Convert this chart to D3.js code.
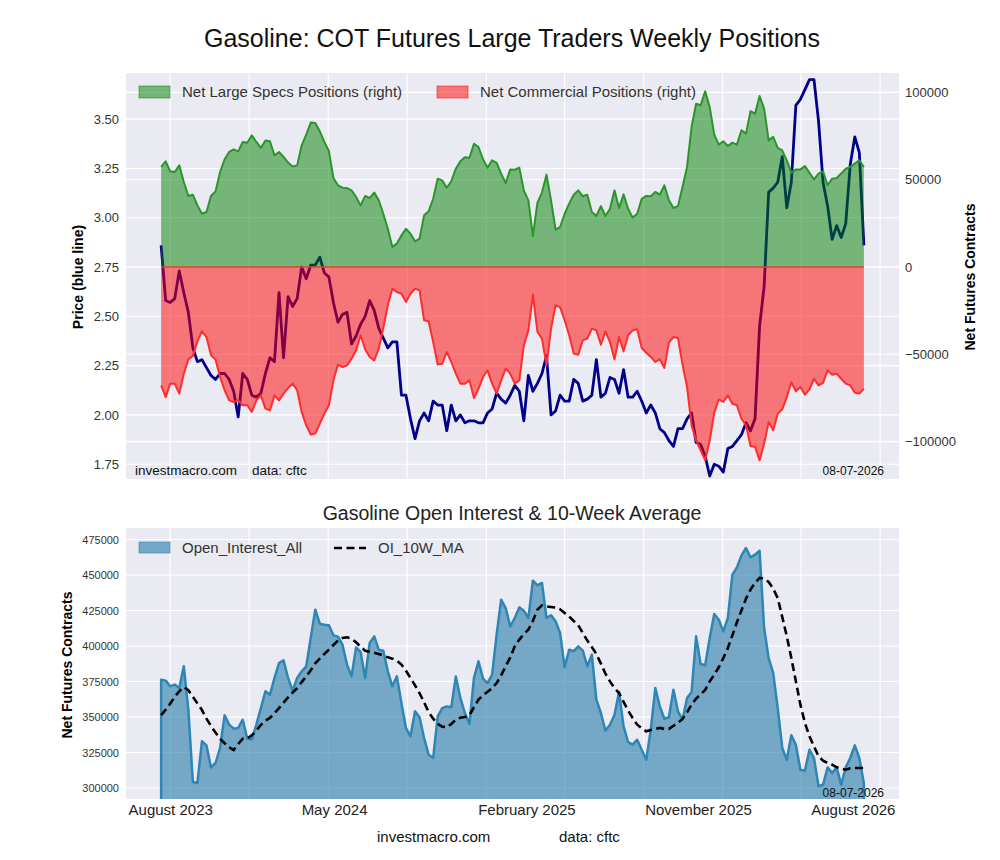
<!DOCTYPE html>
<html>
<head>
<meta charset="utf-8">
<script src="https://cdn.jsdelivr.net/npm/d3@7"></script>
<style>
body { margin: 0; background: #fff; }
text { font-family: "Liberation Sans", Arial, sans-serif; }
</style>
</head>
<body>
<script>
// weekly COT report dates, first one below, one every week after
const firstReport = "2023-07-18";

const specs = [57300, 60500, 54800, 54400, 58200, 48700, 40700, 41400, 35300, 30500,
  31500, 40700, 43300, 54400, 61700, 65900, 67400, 66200, 71600, 71200,
  75400, 71600, 68200, 72500, 72000, 63900, 65900, 63000, 59800, 57600,
  58200, 69700, 75800, 82700, 82500, 77700, 71600, 66400, 51000, 46800,
  45400, 45200, 43900, 40100, 35300, 40700, 39500, 42600, 38200, 30500,
  21900, 11500, 13400,
  18100, 21900, 19100, 14700, 16200, 29600, 31900, 39100, 50600, 49600,
  45400, 49100, 56300, 60500, 62800, 62600, 70600, 68700, 61700, 56900,
  61100, 59700, 53500, 48100, 55900, 55700, 56900, 43900, 38200, 17700,
  36800, 42600, 52900, 38200, 21400, 22900, 30500, 36300, 41400, 43900,
  40500, 41400, 31500, 29200, 34900, 29200, 33400, 43900, 33800, 41600,
  33400,
  28300, 30500, 39100, 40700, 40500, 43000, 41400, 46800, 38200, 33800,
  34900, 45800, 57300, 80200, 93500, 92600, 100600, 91600, 75800, 70100,
  72000, 69300, 71200, 70100, 78300, 76400, 89200, 87800, 97900, 90700,
  72500, 74500, 68200, 66800, 61100, 54000, 55900, 55900, 57800, 54000,
  50200, 53500, 54800, 46800, 50600, 51000, 53500, 56300, 57300, 59200,
  61100, 57300];

const comms = [-67800, -74500, -66800, -66800, -72500, -61100, -52900, -51000, -42600, -36800,
  -40100, -50600, -52900, -63000, -70600, -76400, -77300, -76400, -79200, -79200,
  -83000, -76400, -73500, -81100, -82100, -73500, -76400, -72500, -69300, -66800,
  -70600, -83000, -90700, -96000, -95400, -89700, -84000, -79200, -64900, -55900,
  -57300, -56300, -52500, -47700, -39100, -47100, -51500, -53500, -46800, -34900,
  -21900, -12400, -14300,
  -15300, -20000, -15300, -12400, -13400, -30500, -31100, -43000, -55900, -55400,
  -48700, -54400, -61100, -66800, -66800, -64900, -75000, -69700, -63000, -59200,
  -66800, -72500, -64900, -58200, -61100, -66800, -64900, -44900, -36300, -15800,
  -37200, -41000, -56300, -35300, -21900, -23100, -30500, -39100, -49600, -50200,
  -42000, -41000, -35300, -36300, -44500, -36800, -43000, -52900, -40100, -48300,
  -39100,
  -36300, -35700, -46400, -49100, -51500, -54400, -52900, -57800, -43300, -40100,
  -40700, -55900, -68700, -90700, -99300, -105000, -110700, -99300, -83400, -75800,
  -77300, -73500, -78300, -79200, -86900, -90700, -102500, -103100, -110700, -101200,
  -88800, -93500, -84000, -81500, -74500, -65900, -71200, -68700, -73100, -70100,
  -64000, -67800, -66300, -59200, -61700, -61100, -64000, -66800, -67800, -72000,
  -72500, -69700];

const price = [2.86, 2.58, 2.57, 2.59, 2.73, 2.62, 2.52, 2.34, 2.27, 2.28,
  2.24, 2.20, 2.18, 2.21, 2.21, 2.18, 2.12, 1.99, 2.21, 2.18,
  2.10, 2.09, 2.11, 2.21, 2.29, 2.27, 2.62, 2.29, 2.60, 2.55,
  2.59, 2.75, 2.69, 2.76, 2.76, 2.80, 2.72, 2.70, 2.57, 2.47,
  2.51, 2.52, 2.36, 2.40, 2.46, 2.50, 2.58, 2.53, 2.44, 2.39,
  2.34, 2.37, 2.37,
  2.10, 2.10, 1.98, 1.88, 1.97, 2.01, 1.97, 2.07, 2.05, 2.05,
  1.92, 2.05, 1.97, 2.00, 1.96, 1.97, 1.97, 1.96, 1.96, 2.01,
  2.03, 2.11, 2.08, 2.06, 2.10, 2.15, 2.12, 1.97, 2.20, 2.12,
  2.16, 2.21, 2.30, 2.00, 2.02, 2.10, 2.07, 2.07, 2.18, 2.16,
  2.07, 2.08, 2.10, 2.28, 2.09, 2.11, 2.19, 2.18, 2.11, 2.23,
  2.09,
  2.09, 2.12, 2.07, 2.01, 2.05, 2.01, 1.93, 1.91, 1.87, 1.84,
  1.93, 1.93, 1.98, 2.01, 1.86, 1.85, 1.79, 1.69, 1.75, 1.74,
  1.71, 1.83, 1.84, 1.87, 1.90, 1.96, 1.92, 1.98, 2.45, 2.65,
  3.13, 3.15, 3.18, 3.31, 3.05, 3.18, 3.57, 3.60, 3.65, 3.70,
  3.70, 3.49, 3.18, 3.06, 2.89, 2.96, 2.90, 2.97, 3.27, 3.41,
  3.33, 2.86];

const openInterest = [376300, 375600, 371600, 372800, 370400, 385700, 355200, 304200, 303500, 332900,
  330000, 314500, 317600, 328200, 351200, 344600, 341800, 342300, 348100, 334700,
  334300, 344600, 356300, 368100, 365700, 377500, 388000, 389900, 377500, 368500,
  377500, 382200, 385700, 405600, 425600, 415700, 415000, 414600, 407500, 406600,
  400900, 386900, 378600, 399000, 395800, 377500, 402100, 406800, 397400, 396700,
  382200, 371600, 378600, 359900, 342300, 336400, 354000, 349800, 335200, 323500,
  321100, 350500, 356300, 357500, 356800, 378600, 363400, 352800, 345100, 377500,
  389200, 377000, 373900, 379800, 408000, 432600, 426700, 413800, 419700, 427200,
  424900, 419700, 446000, 442700, 444400, 419700, 421600, 417400, 409200, 385000,
  397400, 396300, 399800, 396700, 385700, 393900, 362200, 352800, 340400, 344600,
  351600, 367600, 343400, 332400, 330500, 334000, 327000, 319900, 341100, 370400,
  357500, 348800, 349800, 369200, 354000, 348100, 363400, 367600, 406800, 387300,
  386400, 405600, 422500, 418500, 410300, 419700, 450200, 455400, 463800, 469000,
  462400, 464300, 467100, 412700, 391500, 381000, 356300, 328200, 319900, 337100,
  330500, 312900, 312200, 327000, 321100, 301200, 302300, 314500, 310600, 314500,
  302300, 314500, 321100, 330000, 321100, 303300];

const oiMA = [351200, 355200, 359400, 364300, 368100, 371100, 368800, 364300, 359600, 354900,
  348800, 343700, 339000, 334700, 331500, 328600, 326800, 331000, 334700, 335000,
  337100, 340400, 344400, 347400, 349300, 352800, 356300, 360100, 363800, 367100,
  370400, 374600, 378600, 382900, 387800, 391100, 394400, 397400, 400700, 403800,
  405600, 406100, 405200, 402600, 399500, 396700, 396000, 395300, 394400, 393200,
  392000, 391100, 389700, 386900, 382600, 377500, 372300, 366700, 360300, 353500,
  348800, 345100, 343200, 342700, 345100, 348100, 349500, 350000, 351200, 357000,
  362200, 365300, 367800, 370200, 373900, 379300, 385700, 392000, 399800, 404500,
  408400, 411500, 417800, 425600, 428600, 427900, 427500, 427000, 425800, 423200,
  420700, 417600, 414600, 409200, 403800, 399300, 394400, 387600, 380500, 375100,
  370400, 366900, 360600, 354500, 349300, 344600, 342000, 339900, 340800, 341600,
  342300, 341600, 341600, 343700, 346000, 348600, 353300, 358700, 362900, 366000,
  369000, 375100, 379800, 385000, 391500, 398600, 407500, 416700, 425100, 433300,
  439700, 444400, 447900, 447400, 445100, 440400, 433800, 420400, 406800, 391500,
  375100, 358700, 345800, 336400, 329300, 322300, 319300, 317600, 316400, 314600,
  313600, 312900, 313900, 314100, 314100, 314100];

const priceTicks = [1.75, 2.00, 2.25, 2.50, 2.75, 3.00, 3.25, 3.50];
const netTicks = [-100000, -50000, 0, 50000, 100000];
const oiTicks = [300000, 325000, 350000, 375000, 400000, 425000, 450000, 475000];
const dateLabels = ["August 2023", "May 2024", "February 2025", "November 2025", "August 2026"];
const dateLabelAt = ["2023-08-01", "2024-04-10", "2025-02-01", "2025-10-24", "2026-06-20"];

const parse = d3.utcParse("%Y-%m-%d");
const dates = specs.map((d, i) => d3.utcWeek.offset(parse(firstReport), i));

const W = 1000, H = 860;
const left = 126, right = 899;
const top1 = 73, bot1 = 479;
const top2 = 528, bot2 = 799;
const bg = "#eaeaf2";
const tickColor = "#333";

const svg = d3.select("body").append("svg")
  .attr("width", W)
  .attr("height", H);

svg.append("rect").attr("width", W).attr("height", H).attr("fill", "#fff");

// x scale, matplotlib style 5% margin each side
const span = dates[dates.length - 1] - dates[0];
const x = d3.scaleUtc()
  .domain([new Date(+dates[0] - span * 0.05), new Date(+dates[dates.length - 1] + span * 0.05)])
  .range([left, right]);
const gridDates = d3.utcMonth.range(new Date(Date.UTC(2023, 7, 1)), new Date(Date.UTC(2026, 8, 2)), 4);

const yPrice = d3.scaleLinear().domain([1.675, 3.734]).range([bot1, top1]);
const yNet = d3.scaleLinear().domain([-121400, 111100]).range([bot1, top1]);
const yOI = d3.scaleLinear().domain([292250, 483100]).range([bot2, top2]);

const defs = svg.append("defs");
defs.append("clipPath").attr("id", "clip1")
  .append("rect").attr("x", left).attr("y", top1).attr("width", right - left).attr("height", bot1 - top1);
defs.append("clipPath").attr("id", "clip2")
  .append("rect").attr("x", left).attr("y", top2).attr("width", right - left).attr("height", bot2 - top2);

// title
svg.append("text")
  .attr("x", 512).attr("y", 47)
  .attr("text-anchor", "middle")
  .attr("font-size", 25)
  .attr("fill", "#111")
  .text("Gasoline: COT Futures Large Traders Weekly Positions");

/************ top panel ************/
const p1 = svg.append("g");
p1.append("rect")
  .attr("x", left).attr("y", top1)
  .attr("width", right - left).attr("height", bot1 - top1)
  .attr("fill", bg);

const grid1 = p1.append("g").attr("stroke", "#fff").attr("stroke-width", 1.1);
grid1.selectAll(".gx").data(gridDates).enter().append("line")
  .attr("x1", d => x(d)).attr("x2", d => x(d))
  .attr("y1", top1).attr("y2", bot1);
grid1.selectAll(".gp").data(priceTicks).enter().append("line")
  .attr("x1", left).attr("x2", right)
  .attr("y1", d => yPrice(d)).attr("y2", d => yPrice(d));
grid1.selectAll(".gn").data(netTicks).enter().append("line")
  .attr("x1", left).attr("x2", right)
  .attr("y1", d => yNet(d)).attr("y2", d => yNet(d));

const plot1 = p1.append("g").attr("clip-path", "url(#clip1)");

// price sits under the position fills
plot1.append("path")
  .datum(price)
  .attr("fill", "none")
  .attr("stroke", "#00008b")
  .attr("stroke-width", 2.8)
  .attr("stroke-linejoin", "round")
  .attr("d", d3.line().x((d, i) => x(dates[i])).y(d => yPrice(d)));

const netArea = d3.area()
  .x((d, i) => x(dates[i]))
  .y0(yNet(0))
  .y1(d => yNet(d));
const netLine = d3.line()
  .x((d, i) => x(dates[i]))
  .y(d => yNet(d));

plot1.append("path").datum(specs)
  .attr("fill", "green").attr("fill-opacity", 0.5)
  .attr("d", netArea);
plot1.append("path").datum(comms)
  .attr("fill", "red").attr("fill-opacity", 0.5)
  .attr("d", netArea);

plot1.append("path").datum(specs)
  .attr("fill", "none").attr("stroke", "#2a962a").attr("stroke-width", 2)
  .attr("stroke-linejoin", "round")
  .attr("d", netLine);
plot1.append("path").datum(comms)
  .attr("fill", "none").attr("stroke", "#ff2d2d").attr("stroke-width", 2)
  .attr("stroke-linejoin", "round")
  .attr("d", netLine);
plot1.append("line")
  .attr("x1", x(dates[0])).attr("x2", x(dates[dates.length - 1]))
  .attr("y1", yNet(0)).attr("y2", yNet(0))
  .attr("stroke", "#d8442e").attr("stroke-width", 1.6);

// axes
const axPrice = p1.append("g")
  .attr("transform", `translate(${left},0)`)
  .call(d3.axisLeft(yPrice).tickValues(priceTicks).tickFormat(d3.format(".2f")).tickSize(0).tickPadding(7));
const axNet = p1.append("g")
  .attr("transform", `translate(${right},0)`)
  .call(d3.axisRight(yNet).tickValues(netTicks)
    .tickFormat(d => d < 0 ? "\u2212" + Math.abs(d) : String(d)).tickSize(0).tickPadding(6));
[axPrice, axNet].forEach(a => {
  a.select(".domain").remove();
  a.selectAll("text").attr("font-size", 13).attr("fill", tickColor)
    .attr("font-family", "Liberation Sans, Arial, sans-serif");
});

svg.append("text")
  .attr("transform", "translate(83,277) rotate(-90)")
  .attr("text-anchor", "middle")
  .attr("font-size", 14).attr("font-weight", "bold")
  .text("Price (blue line)");
svg.append("text")
  .attr("transform", "translate(975,277) rotate(-90)")
  .attr("text-anchor", "middle")
  .attr("font-size", 14).attr("font-weight", "bold")
  .text("Net Futures Contracts");

// legend
const leg1 = p1.append("g");
leg1.append("rect").attr("x", 139).attr("y", 86).attr("width", 31).attr("height", 12)
  .attr("fill", "green").attr("fill-opacity", 0.5)
  .attr("stroke", "green").attr("stroke-opacity", 0.5);
leg1.append("text").attr("x", 182).attr("y", 97).attr("font-size", 15).attr("fill", "#333")
  .text("Net Large Specs Positions (right)");
leg1.append("rect").attr("x", 437).attr("y", 86).attr("width", 31).attr("height", 12)
  .attr("fill", "red").attr("fill-opacity", 0.5)
  .attr("stroke", "red").attr("stroke-opacity", 0.5);
leg1.append("text").attr("x", 480).attr("y", 97).attr("font-size", 15).attr("fill", "#333")
  .text("Net Commercial Positions (right)");

p1.append("text").attr("x", 135).attr("y", 475).attr("font-size", 13.5).attr("fill", "#111")
  .text("investmacro.com");
p1.append("text").attr("x", 252).attr("y", 475).attr("font-size", 13.5).attr("fill", "#111")
  .text("data: cftc");
p1.append("text").attr("x", 884).attr("y", 475).attr("text-anchor", "end")
  .attr("font-size", 12).attr("fill", "#111")
  .text("08-07-2026");

/************ bottom panel ************/
svg.append("text")
  .attr("x", 512).attr("y", 520)
  .attr("text-anchor", "middle")
  .attr("font-size", 19.5)
  .attr("fill", "#222")
  .text("Gasoline Open Interest & 10-Week Average");

const p2 = svg.append("g");
p2.append("rect")
  .attr("x", left).attr("y", top2)
  .attr("width", right - left).attr("height", bot2 - top2)
  .attr("fill", bg);

const grid2 = p2.append("g").attr("stroke", "#fff").attr("stroke-width", 1.1);
grid2.selectAll(".gx").data(gridDates).enter().append("line")
  .attr("x1", d => x(d)).attr("x2", d => x(d))
  .attr("y1", top2).attr("y2", bot2);
grid2.selectAll(".gy").data(oiTicks).enter().append("line")
  .attr("x1", left).attr("x2", right)
  .attr("y1", d => yOI(d)).attr("y2", d => yOI(d));

const plot2 = p2.append("g").attr("clip-path", "url(#clip2)");
plot2.append("path").datum(openInterest)
  .attr("fill", "#257ca9").attr("fill-opacity", 0.6)
  .attr("stroke", "#2e86b5").attr("stroke-width", 2.5)
  .attr("stroke-linejoin", "round")
  .attr("d", d3.area()
    .x((d, i) => x(dates[i]))
    .y0(bot2 + 4)
    .y1(d => yOI(d)));
plot2.append("path").datum(oiMA)
  .attr("fill", "none")
  .attr("stroke", "#000").attr("stroke-width", 2.6)
  .attr("stroke-dasharray", "8,4.5")
  .attr("d", d3.line().x((d, i) => x(dates[i])).y(d => yOI(d)));

const axOI = p2.append("g")
  .attr("transform", `translate(${left},0)`)
  .call(d3.axisLeft(yOI).tickValues(oiTicks).tickFormat(d => String(d)).tickSize(0).tickPadding(7));
axOI.select(".domain").remove();
axOI.selectAll("text").attr("font-size", 11).attr("fill", tickColor)
  .attr("font-family", "Liberation Sans, Arial, sans-serif");

const axDate = p2.append("g")
  .attr("transform", `translate(0,${bot2})`)
  .call(d3.axisBottom(x).tickValues(dateLabelAt.map(parse))
    .tickFormat((d, i) => dateLabels[i]).tickSize(0).tickPadding(5));
axDate.select(".domain").remove();
axDate.selectAll("text").attr("font-size", 15).attr("fill", "#222")
  .attr("font-family", "Liberation Sans, Arial, sans-serif");

svg.append("text")
  .attr("transform", "translate(72,665) rotate(-90)")
  .attr("text-anchor", "middle")
  .attr("font-size", 14).attr("font-weight", "bold")
  .text("Net Futures Contracts");

const leg2 = p2.append("g");
leg2.append("rect").attr("x", 139).attr("y", 542).attr("width", 31).attr("height", 11)
  .attr("fill", "#257ca9").attr("fill-opacity", 0.6)
  .attr("stroke", "#2e86b5").attr("stroke-opacity", 0.6);
leg2.append("text").attr("x", 182).attr("y", 553).attr("font-size", 15).attr("fill", "#333")
  .text("Open_Interest_All");
leg2.append("line").attr("x1", 334).attr("x2", 366).attr("y1", 548).attr("y2", 548)
  .attr("stroke", "#000").attr("stroke-width", 2.6).attr("stroke-dasharray", "8,4.5");
leg2.append("text").attr("x", 378).attr("y", 553).attr("font-size", 15).attr("fill", "#333")
  .text("OI_10W_MA");

p2.append("text").attr("x", 884).attr("y", 797).attr("text-anchor", "end")
  .attr("font-size", 12).attr("fill", "#111")
  .text("08-07-2026");

// footer
svg.append("text").attr("x", 377).attr("y", 842).attr("font-size", 15).attr("fill", "#111")
  .text("investmacro.com");
svg.append("text").attr("x", 559).attr("y", 842).attr("font-size", 15).attr("fill", "#111")
  .text("data: cftc");
</script>
</body>
</html>
